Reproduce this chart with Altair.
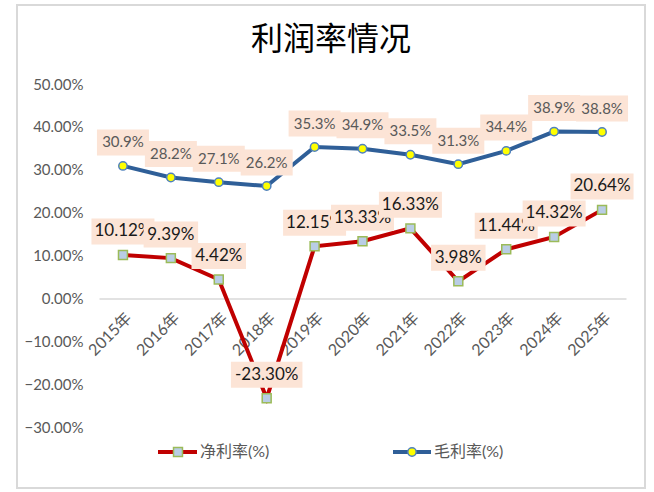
import altair as alt
import pandas as pd

years = ["2015年", "2016年", "2017年", "2018年", "2019年", "2020年",
         "2021年", "2022年", "2023年", "2024年", "2025年"]
gross_margin = [30.9, 28.2, 27.1, 26.2, 35.3, 34.9, 33.5, 31.3, 34.4, 38.9, 38.8]
net_margin = [10.12, 9.39, 4.42, -23.30, 12.15, 13.33, 16.33, 3.98, 11.44, 14.32, 20.64]
series_names = ["净利率(%)", "毛利率(%)"]
chart_title = "利润率情况"
y_ticks = [-30, -20, -10, 0, 10, 20, 30, 40, 50]

rows = []
for i, yr in enumerate(years):
    rows.append(dict(year=yr, idx=i, series="gross", value=gross_margin[i],
                     label=f"{gross_margin[i]:.1f}%"))
    rows.append(dict(year=yr, idx=i, series="net", value=net_margin[i],
                     label=f"{net_margin[i]:.2f}%"))
df = pd.DataFrame(rows)

W, H = 527, 343
Y_MIN, Y_MAX = -30, 50
zero_px = H * Y_MAX / (Y_MAX - Y_MIN)

RED = "#C00000"
BLUE = "#2F5F98"
BOX = "#FCE4D6"
GRAY = "#595959"
FONT = "Lato, 'Noto Sans CJK SC'"

x_enc = alt.X(
    "year:N", sort=years,
    scale=alt.Scale(type="point", domain=years, padding=0.5),
    axis=alt.Axis(title=None, labelAngle=-45, labelAlign="right", labelBaseline="top",
                  labelPadding=11, ticks=False, grid=False, domainColor="#D9D9D9",
                  domainWidth=1.5, offset=-(H - zero_px), labelColor=GRAY,
                  labelFont=FONT, labelFontSize=16),
)
y_enc = alt.Y(
    "value:Q",
    scale=alt.Scale(domain=[Y_MIN, Y_MAX], nice=False, zero=False),
    axis=alt.Axis(title=None, values=y_ticks, labelExpr="format(datum.value, '.2f') + '%'",
                  grid=False, domain=False, ticks=False, tickSize=0, labelPadding=16,
                  labelColor=GRAY, labelFont=FONT, labelFontSize=15),
)

base = alt.Chart(df).encode(x=x_enc, y=y_enc)

gross = base.transform_filter("datum.series == 'gross'")
net = base.transform_filter("datum.series == 'net'")

layers = [
    net.mark_line(color=RED, strokeWidth=4),
    gross.mark_line(color=BLUE, strokeWidth=4),
    net.mark_point(shape="square", filled=True, fill="#B9CDE5", stroke="#9BBB59",
                   strokeWidth=1.5, opacity=1, size=80),
    gross.mark_point(shape="circle", filled=True, fill="#FFFF00", stroke="#4F81BD",
                     strokeWidth=1.5, opacity=1, size=70),
]

# label boxes: a symbol path scaled so that 1 unit = 100 px (size 40000)
label_base = base.transform_calculate(
    hw="(datum.series == 'gross' ? 52 : length(datum.label) * 8.5 + 12) / 200",
).transform_calculate(
    box="'M' + (-datum.hw) + ',-0.13H' + datum.hw + 'V0.13H' + (-datum.hw) + 'Z'"
)

for i in range(len(years)):
    sel = label_base.transform_filter(f"datum.idx == {i}")
    layers.append(
        sel.mark_point(filled=True, fill=BOX, opacity=1, strokeWidth=0, size=40000,
                       yOffset=-23.5).encode(shape=alt.Shape("box:N", scale=None))
    )
    layers.append(
        sel.mark_text(font="Lato", baseline="middle", align="center", dy=-23.5).encode(
            text="label:N",
            color=alt.Color("series:N", scale=alt.Scale(domain=["gross", "net"],
                                                        range=[GRAY, "#1A1A1A"]), legend=None),
            size=alt.Size("series:N", scale=alt.Scale(domain=["gross", "net"],
                                                      range=[15, 17]), legend=None),
        )
    )

# legend (drawn by hand, like the spreadsheet legend)
leg_net = alt.Chart(pd.DataFrame({"name": [series_names[0]]}))
leg_gross = alt.Chart(pd.DataFrame({"name": [series_names[1]]}))
LY = 368
layers += [
    leg_net.mark_rule(color=RED, strokeWidth=4).encode(
        x=alt.value(59), x2=alt.value(98), y=alt.value(LY)),
    leg_net.mark_point(shape="square", filled=True, fill="#B9CDE5", stroke="#9BBB59",
                       strokeWidth=1.5, opacity=1, size=80).encode(
        x=alt.value(79), y=alt.value(LY)),
    leg_net.mark_text(align="left", baseline="middle", font=FONT, fontSize=16,
                      color=GRAY).encode(x=alt.value(101), y=alt.value(LY), text="name:N"),
    leg_gross.mark_rule(color=BLUE, strokeWidth=4).encode(
        x=alt.value(294), x2=alt.value(332), y=alt.value(LY)),
    leg_gross.mark_point(shape="circle", filled=True, fill="#FFFF00", stroke="#4F81BD",
                         strokeWidth=1.5, opacity=1, size=70).encode(
        x=alt.value(313), y=alt.value(LY)),
    leg_gross.mark_text(align="left", baseline="middle", font=FONT, fontSize=16,
                        color=GRAY).encode(x=alt.value(335), y=alt.value(LY), text="name:N"),
]

# title and outer frame
title_src = alt.Chart(pd.DataFrame({"t": [chart_title]}))
layers += [
    title_src.mark_text(align="center", baseline="middle", font="Noto Sans CJK SC",
                        fontSize=32, color="black").encode(
        x=alt.value(232), y=alt.value(-44), text="t:N"),
    title_src.mark_rect(fill="transparent", stroke="#D9D9D9", strokeWidth=2).encode(
        x=alt.value(-82), x2=alt.value(546), y=alt.value(-79), y2=alt.value(404)),
]

chart = alt.layer(*layers).resolve_scale(color="independent", size="independent").properties(
    width=W, height=H,
    autosize=alt.AutoSizeParams(type="none"),
    padding={"left": 99, "top": 84, "right": 28, "bottom": 65},
    background="white",
).configure_view(stroke=None)

chart.save("out.html", embed_options={"renderer": "svg", "actions": False})
